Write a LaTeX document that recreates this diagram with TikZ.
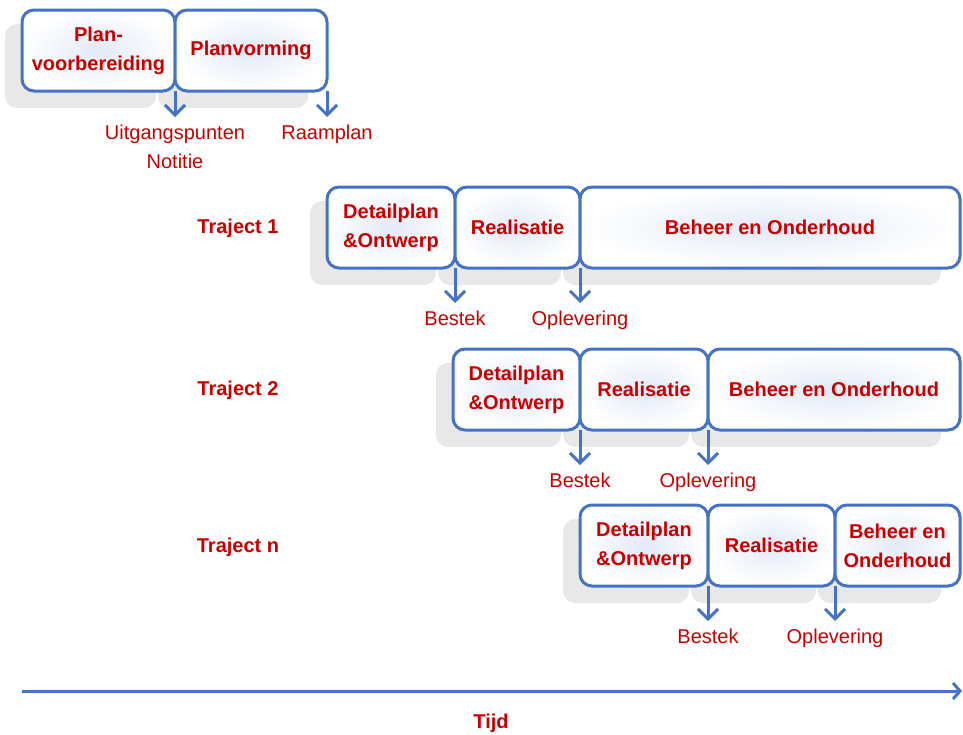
\documentclass[tikz,border=0pt]{standalone}
\usepackage{fontspec}
\setmainfont{Liberation Sans}
\usetikzlibrary{arrows.meta, positioning, backgrounds}
\definecolor{lineblue}{RGB}{68,114,196}
\definecolor{darkred}{RGB}{200,0,0}
\definecolor{shadowgray}{RGB}{232,232,232}
\definecolor{glow}{RGB}{226,233,246}

\begin{document}
\begin{tikzpicture}[x=0.5pt, y=-0.5pt,
  phase/.style={draw=lineblue, line width=1.5pt, rounded corners=6pt,
    inner color=glow, outer color=white, minimum height=40.5pt,
    outer sep=0pt, inner sep=2pt, align=center, text=darkred,
    font=\bfseries\fontsize{10pt}{14.5pt}\selectfont},
  mile/.style={text=darkred, inner sep=0.5pt, align=center,
    font=\fontsize{10pt}{14.5pt}\selectfont},
  track/.style={text=darkred, font=\bfseries},
  tip/.style={lineblue, line width=1.5pt, shorten >=3.5pt,
    -{Straight Barb[length=5pt, width=10pt]}}]
  \useasboundingbox (0,0) rectangle (963,734);

  % plan phase
  \node[phase, anchor=north west, minimum width=76.5pt] (pv) at (22,10) {Plan-\\voorbereiding};
  \node[phase, right=0pt of pv, minimum width=76pt] (pf) {Planvorming};
  \node[mile, below=16.5pt of pv.south east] (up) {Uitgangspunten\\Notitie};
  \node[mile, below=16.5pt of pf.south east] (rp) {Raamplan};

  % traject 1
  \node[track] (tr1) at (238,228) {Traject 1};
  \node[phase, anchor=north west, minimum width=64pt] (d1) at (327,187) {Detailplan\\\&Ontwerp};
  \node[phase, right=0pt of d1, minimum width=62.5pt] (r1) {Realisatie};
  \node[phase, right=0pt of r1, minimum width=190pt] (b1) {Beheer en Onderhoud};
  \node[mile, below=21pt of d1.south east] (bs1) {Bestek};
  \node[mile, below=21pt of r1.south east] (op1) {Oplevering};

  % traject 2
  \node[track] (tr2) at (238,390) {Traject 2};
  \node[phase, anchor=north west, minimum width=63.5pt] (d2) at (453,349) {Detailplan\\\&Ontwerp};
  \node[phase, right=0pt of d2, minimum width=64pt] (r2) {Realisatie};
  \node[phase, right=0pt of r2, minimum width=126pt] (b2) {Beheer en Onderhoud};
  \node[mile, below=21pt of d2.south east] (bs2) {Bestek};
  \node[mile, below=21pt of r2.south east] (op2) {Oplevering};

  % traject n
  \node[track] (trn) at (238,547) {Traject n};
  \node[phase, anchor=north west, minimum width=64pt] (dn) at (580,505) {Detailplan\\\&Ontwerp};
  \node[phase, right=0pt of dn, minimum width=63.5pt] (rn) {Realisatie};
  \node[phase, right=0pt of rn, minimum width=62.5pt] (bn) {Beheer en\\Onderhoud};
  \node[mile, below=21pt of dn.south east] (bsn) {Bestek};
  \node[mile, below=21pt of rn.south east] (opn) {Oplevering};

  % shadows behind the boxes
  \begin{scope}[on background layer]
    \foreach \b in {pv,pf,d1,r1,b1,d2,r2,b2,dn,rn,bn}
      \fill[shadowgray, rounded corners=6pt]
        ([xshift=-8.5pt,yshift=-8.5pt]\b.south west) rectangle ([xshift=-9.5pt,yshift=-7pt]\b.north east);
  \end{scope}

  % milestones
  \foreach \b/\m in {pv/up, pf/rp, d1/bs1, r1/op1, d2/bs2, r2/op2, dn/bsn, rn/opn}
    \draw[tip] (\b.south east) -- (\m.north);

  % time axis
  \coordinate (t0) at (22,691);
  \coordinate (t1) at (962,691);
  \draw[tip, shorten >=0pt, -{Straight Barb[length=3.5pt, width=8pt]}] (t0) -- (t1);
  \node[track] (tijd) at (491,723) {Tijd};
\end{tikzpicture}
\end{document}
